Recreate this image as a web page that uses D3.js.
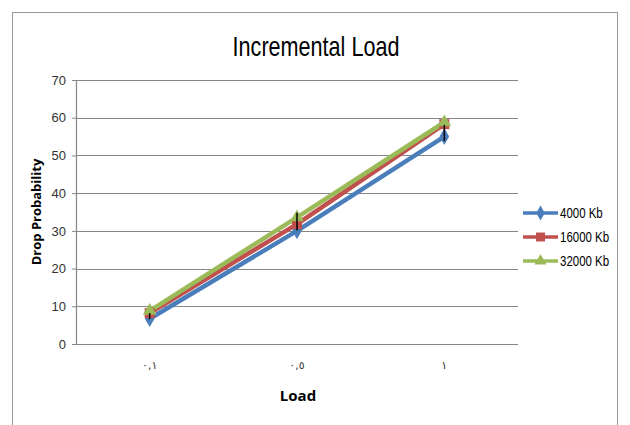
<!DOCTYPE html>
<html>
<head>
<meta charset="utf-8">
<script src="https://cdnjs.cloudflare.com/ajax/libs/d3/7.8.5/d3.min.js"></script>
<style>
  body { margin: 0; background: #fff; }
  svg { display: block; }
</style>
</head>
<body>
<svg id="svg" width="630" height="425"></svg>
<script>
// chart values
var categories = ["٠,١", "٠,٥", "١"];
var seriesNames = ["4000 Kb", "16000 Kb", "32000 Kb"];
var values4000 = [6.7, 30, 55];
var values16000 = [8.2, 31.8, 58.3];
var values32000 = [8.8, 33.6, 58.8];
var errLow = [6.6, 30.1, 53.8];
var errHigh = [8.2, 34.8, 58.1];
var yTicks = [0, 10, 20, 30, 40, 50, 60, 70];

var colors = ["#4a7ebb", "#c0504d", "#9bbb59"];
var symbols = [d3.symbolDiamond, d3.symbolSquare, d3.symbolTriangle];
var series = [values4000, values16000, values32000];
var narrowFont = "Liberation Sans Narrow, Arial Narrow, Liberation Sans, sans-serif";

var svg = d3.select("#svg");

// outer frame
svg.append("rect")
  .attr("x", 12.5).attr("y", 12.5)
  .attr("width", 605).attr("height", 420)
  .attr("fill", "none")
  .attr("stroke", "#9a9a9a")
  .attr("stroke-width", 1);

var plotLeft = 76, plotRight = 518, plotTop = 80, plotBottom = 344;

var x = d3.scaleBand().domain(categories).range([plotLeft, plotRight]);
var y = d3.scaleLinear().domain([0, 70]).range([plotBottom, plotTop]);

function cx(i){ return x(categories[i]) + x.bandwidth() / 2; }

// gridlines
svg.append("g").selectAll("line").data(yTicks).enter()
  .append("line")
  .attr("x1", plotLeft).attr("x2", plotRight)
  .attr("y1", function(d){ return Math.round(y(d)) + 0.5; })
  .attr("y2", function(d){ return Math.round(y(d)) + 0.5; })
  .attr("stroke", "#868686")
  .attr("stroke-width", 1.2);

// y axis
var yAxis = svg.append("g")
  .attr("transform", "translate(" + plotLeft + ",0)")
  .call(d3.axisLeft(y).tickValues(yTicks).tickSize(4).tickPadding(6));
yAxis.select(".domain").attr("stroke", "#868686").attr("stroke-width", 1.2);
yAxis.selectAll(".tick line").attr("stroke", "#868686");
yAxis.selectAll("text")
  .attr("font-family", narrowFont)
  .attr("font-size", 13)
  .attr("fill", "#333");

// x tick labels
svg.append("g").selectAll("text").data(categories).enter()
  .append("text")
  .attr("x", function(d, i){ return cx(i); })
  .attr("y", 369)
  .attr("text-anchor", "middle")
  .attr("direction", "ltr")
  .attr("font-family", "DejaVu Sans, sans-serif")
  .attr("font-size", 11)
  .attr("fill", "#333")
  .text(function(d){ return d; });

// lines
var line = d3.line()
  .x(function(d, i){ return cx(i); })
  .y(function(d){ return y(d); });

series.forEach(function(vals, k){
  svg.append("path")
    .datum(vals)
    .attr("d", line)
    .attr("fill", "none")
    .attr("stroke", colors[k])
    .attr("stroke-width", 4.5)
    .attr("stroke-linejoin", "round");
});

// markers
var markerSizes = [80, 100, 80];
series.forEach(function(vals, k){
  svg.append("g").selectAll("path").data(vals).enter()
    .append("path")
    .attr("transform", function(d, i){
      return "translate(" + cx(i) + "," + y(d) + ")";
    })
    .attr("d", d3.symbol().type(symbols[k]).size(markerSizes[k]))
    .attr("fill", colors[k]);
});

// error bars
svg.append("g").selectAll("line").data(errLow).enter()
  .append("line")
  .attr("x1", function(d, i){ return cx(i); })
  .attr("x2", function(d, i){ return cx(i); })
  .attr("y1", function(d){ return y(d); })
  .attr("y2", function(d, i){ return y(errHigh[i]); })
  .attr("stroke", "#000")
  .attr("stroke-width", 1.5);

// title
svg.append("text")
  .attr("transform", "translate(316,56) scale(0.8,1)")
  .attr("text-anchor", "middle")
  .attr("font-family", narrowFont)
  .attr("font-size", 27)
  .attr("fill", "#000")
  .text("Incremental Load");

// axis titles
svg.append("text")
  .attr("transform", "translate(41,212) rotate(-90)")
  .attr("text-anchor", "middle")
  .attr("font-family", "Open Sans, sans-serif")
  .attr("font-weight", "bold")
  .attr("font-size", 13)
  .attr("fill", "#000")
  .text("Drop Probability");

svg.append("text")
  .attr("x", 298).attr("y", 401)
  .attr("text-anchor", "middle")
  .attr("font-family", "Open Sans, sans-serif")
  .attr("font-weight", "bold")
  .attr("font-size", 15)
  .attr("fill", "#000")
  .text("Load");

// legend
var legend = svg.append("g").selectAll("g").data(seriesNames).enter()
  .append("g")
  .attr("transform", function(d, i){ return "translate(523," + (213 + i * 24) + ")"; });

legend.append("line")
  .attr("x1", 0).attr("x2", 35)
  .attr("stroke", function(d, i){ return colors[i]; })
  .attr("stroke-width", 3.5);

legend.append("path")
  .attr("transform", "translate(17.5,0)")
  .attr("d", function(d, i){ return d3.symbol().type(symbols[i]).size(markerSizes[i] * 0.8)(); })
  .attr("fill", function(d, i){ return colors[i]; });

legend.append("text")
  .attr("transform", "translate(37,5) scale(0.82,1)")
  .attr("font-family", narrowFont)
  .attr("font-size", 14)
  .attr("fill", "#000")
  .text(function(d){ return d; });
</script>
</body>
</html>
